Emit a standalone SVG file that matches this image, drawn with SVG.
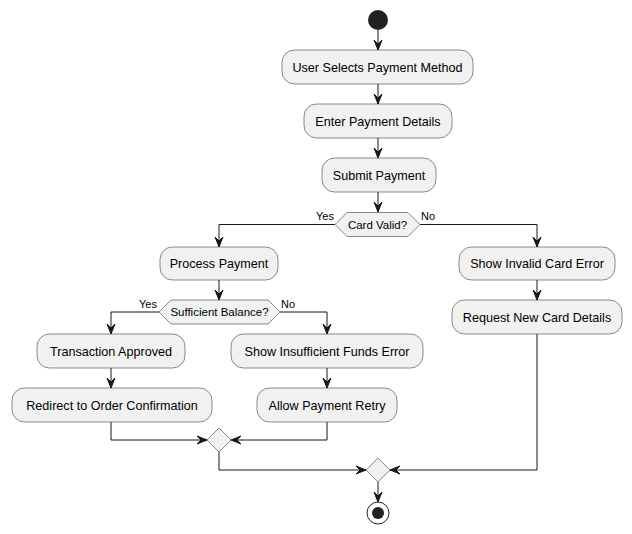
<svg xmlns="http://www.w3.org/2000/svg" width="632" height="534" viewBox="0 0 632 534">
<style>
.node rect{fill:#F1F1F1;stroke:#181818;stroke-width:0.5}
.node polygon{fill:#F1F1F1;stroke:#181818;stroke-width:0.5}
.t{font-family:"Liberation Sans",Arial,sans-serif;font-size:12.6px;fill:#000;text-anchor:middle}
.d{font-family:"Liberation Sans",Arial,sans-serif;font-size:11.5px;fill:#000;text-anchor:middle}
.l{font-family:"Liberation Sans",Arial,sans-serif;font-size:11px;fill:#000}
#connectors path{fill:none;stroke:#181818;stroke-width:1}
.ah{fill:#181818;stroke:#181818;stroke-width:1}
</style>
<defs>
<marker id="arr" viewBox="0 0 12 10" refX="10" refY="5" markerWidth="12" markerHeight="10" markerUnits="userSpaceOnUse" orient="auto">
<polygon class="ah" points="0,1 10,5 0,9 4,5"/>
</marker>
</defs>
<rect width="632" height="534" fill="#FFFFFF"/>
<g id="connectors">
<path d="M378,30 V50" marker-end="url(#arr)"/>
<path d="M378,84 V104" marker-end="url(#arr)"/>
<path d="M378,138 V158" marker-end="url(#arr)"/>
<path d="M378,192 V212" marker-end="url(#arr)"/>
<path d="M335,224.5 H219 V247" marker-end="url(#arr)"/>
<path d="M420,224.5 H537 V247" marker-end="url(#arr)"/>
<path d="M219,280 V300" marker-end="url(#arr)"/>
<path d="M159,312 H111 V334" marker-end="url(#arr)"/>
<path d="M280,312 H327 V334" marker-end="url(#arr)"/>
<path d="M111,368 V388" marker-end="url(#arr)"/>
<path d="M327,368 V388" marker-end="url(#arr)"/>
<path d="M111,422 V440 H207" marker-end="url(#arr)"/>
<path d="M327,422 V440 H231" marker-end="url(#arr)"/>
<path d="M219,452 V470 H366" marker-end="url(#arr)"/>
<path d="M537,280 V300" marker-end="url(#arr)"/>
<path d="M537,334 V470 H390" marker-end="url(#arr)"/>
<path d="M378,482 V502" marker-end="url(#arr)"/>
<text class="l" x="334" y="220" text-anchor="end">Yes</text>
<text class="l" x="421" y="220">No</text>
<text class="l" x="157" y="308" text-anchor="end">Yes</text>
<text class="l" x="281" y="308">No</text>
</g>
<g id="start"><circle cx="378" cy="20" r="10" fill="#222222"/></g>
<g id="n1" class="node"><rect x="282" y="50" width="191" height="34" rx="12.5"/><text class="t" x="377.5" y="71.5">User Selects Payment Method</text></g>
<g id="n2" class="node"><rect x="304" y="104" width="148" height="34" rx="12.5"/><text class="t" x="378" y="125.5">Enter Payment Details</text></g>
<g id="n3" class="node"><rect x="322" y="158" width="114" height="34" rx="12.5"/><text class="t" x="379" y="179.5">Submit Payment</text></g>
<g id="d1" class="node"><polygon points="335,224.5 347,212.5 408,212.5 420,224.5 408,236.5 347,236.5"/><text class="d" x="377.5" y="228.5">Card Valid?</text></g>
<g id="n4" class="node"><rect x="160" y="247" width="118" height="33" rx="12.5"/><text class="t" x="219" y="268">Process Payment</text></g>
<g id="n5" class="node"><rect x="459" y="247" width="156" height="33" rx="12.5"/><text class="t" x="537" y="268">Show Invalid Card Error</text></g>
<g id="n6" class="node"><rect x="452" y="300" width="170" height="34" rx="12.5"/><text class="t" x="537" y="321.5">Request New Card Details</text></g>
<g id="d2" class="node"><polygon points="159,312 171,300 268,300 280,312 268,324 171,324"/><text class="d" x="219.5" y="316">Sufficient Balance?</text></g>
<g id="n7" class="node"><rect x="37" y="334" width="148" height="34" rx="12.5"/><text class="t" x="111" y="355.5">Transaction Approved</text></g>
<g id="n8" class="node"><rect x="231" y="334" width="192" height="34" rx="12.5"/><text class="t" x="327" y="355.5">Show Insufficient Funds Error</text></g>
<g id="n9" class="node"><rect x="12" y="388" width="200" height="34" rx="12.5"/><text class="t" x="112" y="409.5">Redirect to Order Confirmation</text></g>
<g id="n10" class="node"><rect x="257" y="388" width="140" height="34" rx="12.5"/><text class="t" x="327" y="409.5">Allow Payment Retry</text></g>
<g id="m1" class="node"><polygon points="219,428 231,440 219,452 207,440"/></g>
<g id="m2" class="node"><polygon points="378,458 390,470 378,482 366,470"/></g>
<g id="end"><circle cx="378" cy="513" r="11" fill="none" stroke="#222222" stroke-width="1"/><circle cx="378" cy="513" r="6" fill="#222222"/></g>
</svg>
